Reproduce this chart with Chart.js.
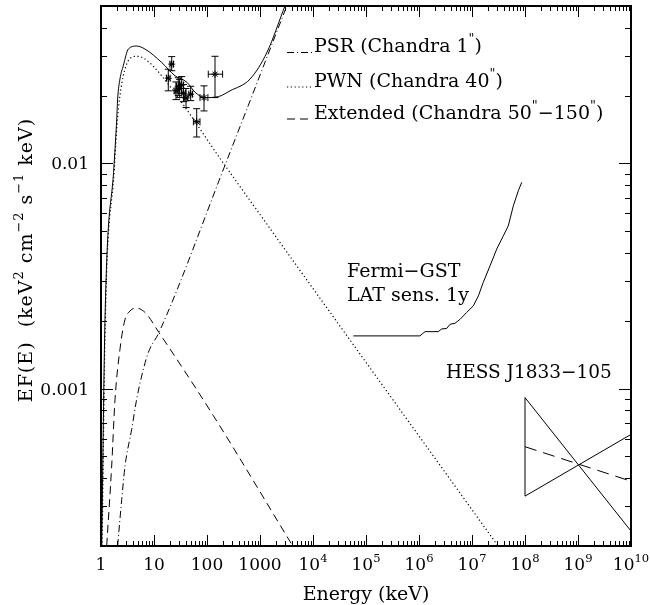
<!DOCTYPE html>
<html>
<head>
<meta charset="utf-8">
<script src="https://cdn.jsdelivr.net/npm/chart.js@4.4.0/dist/chart.umd.min.js"></script>
<style>
  body { margin: 0; background: #fff; }
  #wrap { width: 650px; height: 605px; }
</style>
</head>
<body>
<div id="wrap"><canvas id="sedChart" width="650" height="605"></canvas></div>
<script>
// energies in keV, fluxes EF(E) in keV^2 cm^-2 s^-1 keV
const totalE = [1.03, 1.19, 1.77, 1.98, 2.06, 2.28, 2.64, 3.28, 4.71, 6.75, 13.9, 24.9, 42, 59.5, 91.5, 164, 272, 650, 1360, 2950];
const totalF = [2.0e-4, 0.00204, 0.0100, 0.0157, 0.0193, 0.0237, 0.0272, 0.0322, 0.0332, 0.0322, 0.0281, 0.0245, 0.0229, 0.0207, 0.0196, 0.0198, 0.0210, 0.0237, 0.0312, 0.0500];

const pwnE = [1.05, 1.2, 1.78, 2.0, 2.28, 2.64, 3.28, 4.71, 6.75, 13.9, 218, 3.1e7];
const pwnF = [2.0e-4, 0.0019, 0.0094, 0.0148, 0.0200, 0.0245, 0.0286, 0.0299, 0.0291, 0.0245, 0.0098, 2.0e-4];

const psrE = [2.06, 2.46, 2.84, 3.79, 4.71, 5.86, 7.8, 12.4, 218, 3200];
const psrF = [2.0e-4, 3.22e-4, 4.53e-4, 6.59e-4, 8.97e-4, 0.001138, 0.001445, 0.001774, 0.0098, 0.0500];

const extE = [1.28, 1.59, 1.84, 2.28, 2.84, 3.52, 4.52, 6.75, 12.4, 131, 4150];
const extF = [2.0e-4, 4.53e-4, 8.97e-4, 0.001496, 0.00203, 0.00221, 0.00228, 0.00218, 0.001774, 7.6e-4, 2.0e-4];

const fermiE = [5.76e4, 1.04e6, 1.30e6, 2.31e6, 2.68e6, 3.33e6, 3.85e6, 4.78e6, 5.94e6, 7.94e6, 1.06e7, 1.32e7, 1.63e7, 2.19e7, 2.92e7, 3.90e7, 4.84e7, 6.02e7, 7.48e7, 8.67e7];
const fermiF = [0.001714, 0.001714, 0.00179, 0.00179, 0.00184, 0.00185, 0.00193, 0.00195, 0.00203, 0.00218, 0.00233, 0.00258, 0.00296, 0.00351, 0.00416, 0.00477, 0.00528, 0.00648, 0.00756, 0.00824];

// HESS J1833-105 butterfly
const hessE = [1e8, 1e10];
const hessUpF = [9.12e-4, 2.33e-4];
const hessLowF = [3.33e-4, 6.26e-4];
const hessMidF = [5.52e-4, 3.88e-4];
const hessEdgeE = [1e8, 1e8];
const hessEdgeF = [3.33e-4, 9.12e-4];

// Chandra points with error bars
const xrayE   = [18.6, 21.6, 26.0, 28.7, 30.5, 33.3, 36.0, 40.2, 49.2, 63.9, 87.8, 141.6];
const xrayElo = [17.2, 20.0, 24.0, 26.5, 28.2, 30.8, 33.3, 37.2, 45.5, 55.4, 73.8, 105.7];
const xrayEhi = [20.1, 23.3, 28.1, 31.0, 33.0, 36.0, 38.9, 43.5, 53.2, 73.7, 104.0, 197.0];
const xrayF   = [0.0239, 0.0276, 0.0210, 0.0220, 0.0215, 0.0223, 0.0205, 0.0195, 0.0203, 0.0153, 0.0196, 0.0249];
const xrayFlo = [0.0210, 0.0258, 0.0192, 0.0200, 0.0196, 0.0205, 0.0188, 0.0177, 0.0190, 0.0131, 0.0171, 0.0196];
const xrayFhi = [0.0262, 0.0298, 0.0230, 0.0240, 0.0236, 0.0243, 0.0224, 0.0215, 0.0220, 0.0175, 0.0221, 0.0299];

const xMajor = [0, 1, 2, 3, 4, 5, 6, 7, 8, 9, 10];
const yMajor = [0.001, 0.01];
const yMajorLabels = ["0.001", "0.01"];

const dashPSR = [7, 3, 1, 3];
const dashPWN = [1.2, 2.6];
const dashExt = [8, 5];
const FONT = '"DejaVu Serif", serif';

function pts(xs, ys) {
  return xs.map((x, i) => ({ x: x, y: ys[i] }));
}

function curve(xs, ys, dash, smooth, width) {
  return {
    data: pts(xs, ys), showLine: true, pointRadius: 0,
    borderColor: '#000', borderWidth: width || 1, borderDash: dash || [],
    cubicInterpolationMode: smooth ? 'monotone' : 'default', tension: 0
  };
}

// text with superscripts: parts = [[text, isSup], ...]
function rich(ctx, parts, x, y, size, align, spacing) {
  const sup = size * 0.68;
  ctx.textAlign = 'left';
  ctx.textBaseline = 'alphabetic';
  ctx.letterSpacing = (spacing || 0) + 'px';
  let w = 0;
  parts.forEach(p => {
    ctx.font = (p[1] ? sup : size) + 'px ' + FONT;
    w += ctx.measureText(p[0]).width;
  });
  let cx = align === 'center' ? x - w / 2 : (align === 'right' ? x - w : x);
  parts.forEach(p => {
    ctx.font = (p[1] ? sup : size) + 'px ' + FONT;
    ctx.fillText(p[0], cx, p[1] ? y - size * 0.45 : y);
    cx += ctx.measureText(p[0]).width;
  });
  ctx.letterSpacing = '0px';
}

const errorBars = {
  id: 'errorBars',
  afterDatasetsDraw(chart) {
    const ctx = chart.ctx, xs = chart.scales.x, ys = chart.scales.y;
    ctx.save();
    ctx.strokeStyle = '#000';
    ctx.lineWidth = 1;
    ctx.setLineDash([]);
    xrayE.forEach((e, i) => {
      const px = xs.getPixelForValue(e), py = ys.getPixelForValue(xrayF[i]);
      const y1 = ys.getPixelForValue(xrayFlo[i]), y2 = ys.getPixelForValue(xrayFhi[i]);
      const x1 = xs.getPixelForValue(xrayElo[i]), x2 = xs.getPixelForValue(xrayEhi[i]);
      ctx.beginPath();
      ctx.moveTo(px, y1); ctx.lineTo(px, y2);
      ctx.moveTo(px - 3.5, y1); ctx.lineTo(px + 3.5, y1);
      ctx.moveTo(px - 3.5, y2); ctx.lineTo(px + 3.5, y2);
      ctx.moveTo(x1, py); ctx.lineTo(x2, py);
      ctx.moveTo(x1, py - 3.5); ctx.lineTo(x1, py + 3.5);
      ctx.moveTo(x2, py - 3.5); ctx.lineTo(x2, py + 3.5);
      ctx.stroke();
    });
    ctx.restore();
  }
};

const frame = {
  id: 'frame',
  afterDraw(chart) {
    const ctx = chart.ctx, a = chart.chartArea, xs = chart.scales.x, ys = chart.scales.y;
    ctx.save();
    ctx.fillStyle = '#000';
    ctx.strokeStyle = '#000';
    ctx.setLineDash([]);
    ctx.lineWidth = 2;
    ctx.strokeRect(a.left, a.top, a.right - a.left, a.bottom - a.top);

    ctx.lineWidth = 1;
    ctx.beginPath();
    xMajor.forEach(d => {
      const px = Math.round(xs.getPixelForValue(Math.pow(10, d))) + 0.5;
      ctx.moveTo(px, a.bottom); ctx.lineTo(px, a.bottom - 11);
      ctx.moveTo(px, a.top); ctx.lineTo(px, a.top + 11);
      if (d < 10) {
        for (let m = 2; m <= 9; m++) {
          const qx = Math.round(xs.getPixelForValue(m * Math.pow(10, d))) + 0.5;
          ctx.moveTo(qx, a.bottom); ctx.lineTo(qx, a.bottom - 5);
          ctx.moveTo(qx, a.top); ctx.lineTo(qx, a.top + 5);
        }
      }
    });
    for (let k = -4; k <= -2; k++) {
      for (let m = 1; m <= 9; m++) {
        const v = m * Math.pow(10, k);
        if (v < ys.min * 0.999 || v > ys.max * 1.001) continue;
        const len = m === 1 ? 12 : 6;
        const py = Math.round(ys.getPixelForValue(v)) + 0.5;
        ctx.moveTo(a.left, py); ctx.lineTo(a.left + len, py);
        ctx.moveTo(a.right, py); ctx.lineTo(a.right - len, py);
      }
    }
    ctx.stroke();

    // tick labels
    xMajor.forEach(d => {
      const px = xs.getPixelForValue(Math.pow(10, d));
      const parts = d < 4 ? [[String(Math.pow(10, d)), false]] : [["10", false], [String(d), true]];
      rich(ctx, parts, px, a.bottom + 24, 17, 'center');
    });
    yMajor.forEach((v, i) => {
      rich(ctx, [[yMajorLabels[i], false]], a.left - 12, ys.getPixelForValue(v) + 6, 17, 'right');
    });

    // axis titles
    rich(ctx, [["Energy (keV)", false]], (a.left + a.right) / 2, 600, 19, 'center');
    ctx.save();
    ctx.translate(32, 260);
    ctx.rotate(-Math.PI / 2);
    rich(ctx, [["EF(E)  (keV", false], ["2", true], [" cm", false], ["\u22122", true], [" s", false], ["\u22121", true], [" keV)", false]], 0, 0, 19, 'center', 1);
    ctx.restore();

    // legend
    const legend = [
      [dashPSR, 52, [["PSR (Chandra 1", false], ["\"", true], [")", false]]],
      [dashPWN, 86.5, [["PWN (Chandra 40", false], ["\"", true], [")", false]]],
      [dashExt, 118.5, [["Extended (Chandra 50", false], ["\"", true], ["\u2212150", false], ["\"", true], [")", false]]]
    ];
    legend.forEach(l => {
      ctx.setLineDash(l[0]);
      ctx.beginPath();
      ctx.moveTo(287, l[1] + 0.5); ctx.lineTo(313, l[1] + 0.5);
      ctx.stroke();
      ctx.setLineDash([]);
      rich(ctx, l[2], 314, l[1], 19, 'left');
    });

    // annotations
    rich(ctx, [["Fermi\u2212GST", false]], 347, 277, 19, 'left');
    rich(ctx, [["LAT sens. 1y", false]], 347, 301, 19, 'left');
    rich(ctx, [["HESS J1833\u2212105", false]], 446, 378, 18.5, 'left');
    ctx.restore();
  }
};

const ctx = document.getElementById("sedChart").getContext('2d');
const sedChart = new Chart(ctx, {
  type: 'scatter',
  data: {
    datasets: [
      curve(totalE, totalF, [], true),
      curve(pwnE, pwnF, dashPWN, true, 1.2),
      curve(psrE, psrF, dashPSR, true),
      curve(extE, extF, dashExt, true),
      curve(fermiE, fermiF, [], false),
      curve(hessE, hessUpF, [], false),
      curve(hessE, hessLowF, [], false),
      curve(hessE, hessMidF, [12, 7], false),
      curve(hessEdgeE, hessEdgeF, [], false),
      {
        data: pts(xrayE, xrayF), showLine: false,
        pointStyle: 'star', pointRadius: 3.5, borderColor: '#000', borderWidth: 1,
        backgroundColor: '#000'
      }
    ]
  },
  options: {
    responsive: false,
    animation: false,
    layout: { padding: { left: 101, top: 6, right: 19, bottom: 59 } },
    plugins: { legend: { display: false }, tooltip: { enabled: false } },
    scales: {
      x: { type: 'logarithmic', min: 1, max: 1e10, display: false },
      y: { type: 'logarithmic', min: 2e-4, max: 0.05, display: false }
    }
  },
  plugins: [errorBars, frame]
});
</script>
</body>
</html>
